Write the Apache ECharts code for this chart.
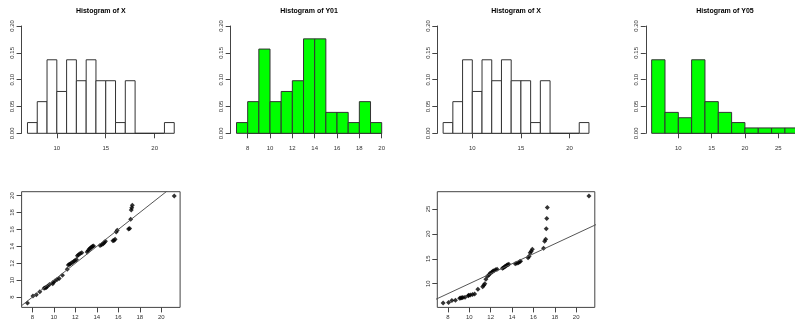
<!DOCTYPE html>
<html><head><meta charset="utf-8">
<script src="https://cdn.jsdelivr.net/npm/echarts@6/dist/echarts.min.js"></script>
<style>html,body{margin:0;padding:0;background:#fff}#c{width:795px;height:324px}</style>
</head><body><div id="c"></div>
<script>
// ---- data ----
const X_SORTED = [7.55, 8.06, 8.37, 8.7, 9.1, 9.2, 9.3, 9.4, 9.6, 9.9, 9.95, 10.1, 10.3, 10.5, 10.8,
  11.25, 11.35, 11.45, 11.55, 11.7, 11.85, 11.95, 12.1, 12.2, 12.3, 12.45, 12.6, 13.1, 13.2, 13.3,
  13.4, 13.5, 13.6, 13.7, 14.3, 14.45, 14.6, 14.7, 14.8, 15.5, 15.6, 15.7, 15.8, 15.9, 16.95,
  17.05, 17.15, 17.2, 17.25, 17.3, 21.2];
const Y01_SORTED = [7.3, 8.15, 8.3, 8.65, 9.05, 9.1, 9.15, 9.3, 9.5, 9.6, 9.75, 9.9, 10.1, 10.2, 10.6,
  11.3, 11.8, 11.9, 11.95, 12.1, 12.2, 12.3, 12.45, 12.9, 13.0, 13.15, 13.25, 13.35, 13.5, 13.7,
  13.8, 13.9, 14.0, 14.05, 14.1, 14.2, 14.3, 14.45, 14.6, 14.65, 14.7, 14.85, 15.7, 15.9, 16.05,
  16.1, 17.2, 18.3, 18.55, 18.85, 19.95];
const Y05_SORTED = [6.1, 6.2, 6.6, 6.7, 7.1, 7.15, 7.2, 7.25, 7.3, 7.6, 7.7, 7.75, 7.85, 7.95, 8.9,
  9.4, 9.7, 10.0, 10.9, 11.5, 11.8, 12.1, 12.3, 12.5, 12.6, 12.8, 12.9, 13.1, 13.2, 13.4,
  13.5, 13.7, 13.8, 13.9, 14.0, 14.1, 14.2, 14.4, 14.5, 15.2, 15.5, 16.2, 16.5, 16.9, 17.1,
  18.5, 18.9, 21.0, 23.1, 25.3, 27.6];

const HX_BREAKS = [7, 8, 9, 10, 11, 12, 13, 14, 15, 16, 17, 18, 19, 20, 21, 22];
const HX_DENS = [0.020, 0.059, 0.137, 0.078, 0.137, 0.098, 0.137, 0.098, 0.098, 0.020, 0.098, 0, 0, 0, 0.020];
const HY01_BREAKS = [7, 8, 9, 10, 11, 12, 13, 14, 15, 16, 17, 18, 19, 20];
const HY01_DENS = [0.020, 0.059, 0.157, 0.059, 0.078, 0.098, 0.176, 0.176, 0.039, 0.039, 0.020, 0.059, 0.020];
const HY05_BREAKS = [6, 8, 10, 12, 14, 16, 18, 20, 22, 24, 26, 28];
const HY05_DENS = [0.137, 0.039, 0.029, 0.137, 0.059, 0.039, 0.020, 0.010, 0.010, 0.010, 0.010];

const TITLES = ['Histogram of X', 'Histogram of Y01', 'Histogram of X', 'Histogram of Y05'];
const HIST_Y_TICKS = {min: 0, max: 0.2, step: 0.05};
const ABLINE = {a: 0, b: 1};

// ---- layout / style ----
const W = 795, H = 324;
const FONT = 'Liberation Sans';
const AX = '#444', LAB = '#333';
const chart = echarts.init(document.getElementById('c'), null, {renderer: 'canvas'});
const grid = [], xAxis = [], yAxis = [], series = [], graphic = [];

function ext(lo, hi) { const d = (hi - lo) * 0.04; return [lo - d, hi + d]; }
function px(reg, xr, v) { return reg.l + (v - xr[0]) / (xr[1] - xr[0]) * (reg.r - reg.l); }
function py(reg, yr, v) { return reg.b - (v - yr[0]) / (yr[1] - yr[0]) * (reg.b - reg.t); }

function hiddenAxis(min, max, gi) {
  return {type: 'value', gridIndex: gi, min, max, show: false, splitLine: {show: false}};
}
function tickAxis(dim, min, max, step, gi, offset, showLine, margin, fmt) {
  const a = {
    type: 'value', gridIndex: gi, min, max, interval: step, offset,
    position: dim === 'x' ? 'bottom' : 'left',
    axisLine: {show: showLine, lineStyle: {color: AX, width: 1}},
    axisTick: {show: true, length: 5, lineStyle: {color: AX, width: 1}},
    axisLabel: {show: true, fontFamily: FONT, fontSize: 6, color: LAB, margin,
      formatter: fmt || (v => String(v))},
    splitLine: {show: false}
  };
  if (dim === 'y') a.axisLabel.rotate = 90;
  return a;
}

// adds a region grid (data) and a tick grid (axes between given tick values)
function addPanel(reg, xr, yr, xt, yt, box, yfmt, xLabMargin) {
  const gi = grid.length;
  grid.push({left: reg.l, top: reg.t, width: reg.r - reg.l, height: reg.b - reg.t,
    outerBoundsMode: 'none', containLabel: false,
    show: box, borderColor: AX, borderWidth: 1, backgroundColor: 'transparent'});
  xAxis.push(hiddenAxis(xr[0], xr[1], gi));
  yAxis.push(hiddenAxis(yr[0], yr[1], gi));
  const gt = grid.length;
  const tl = px(reg, xr, xt.min), tr = px(reg, xr, xt.max);
  const tt = py(reg, yr, yt.max), tb = py(reg, yr, yt.min);
  grid.push({left: tl, top: tt, width: tr - tl, height: tb - tt, show: false,
    outerBoundsMode: 'none', containLabel: false});
  xAxis.push(tickAxis('x', xt.min, xt.max, xt.step, gt, reg.b - tb, !box, xLabMargin));
  yAxis.push(tickAxis('y', yt.min, yt.max, yt.step, gt, tl - reg.l, !box, 6, yfmt));
  return gi;
}

function addHist(title, reg, breaks, dens, fill, xt) {
  const xr = ext(breaks[0], breaks[breaks.length - 1]);
  const yr = ext(HIST_Y_TICKS.min, HIST_Y_TICKS.max);
  const gi = addPanel(reg, xr, yr, xt, HIST_Y_TICKS, false, v => v.toFixed(2), 8);
  const data = dens.map((d, i) => [breaks[i], breaks[i + 1], d]);
  series.push({
    type: 'custom', xAxisIndex: gi, yAxisIndex: gi, clip: false, silent: true,
    encode: {x: [0, 1], y: 2}, data,
    renderItem: (params, api) => {
      const p0 = api.coord([api.value(0), 0]);
      const p1 = api.coord([api.value(1), api.value(2)]);
      return {type: 'rect',
        shape: {x: p0[0], y: p1[1], width: p1[0] - p0[0], height: p0[1] - p1[1]},
        style: {fill, stroke: '#333', lineWidth: 1}};
    }
  });
  graphic.push({type: 'text', x: (reg.l + reg.r) / 2, y: 11,
    style: {text: title, font: 'bold 7px ' + FONT, fill: '#000', align: 'center', verticalAlign: 'middle'}});
}

function addQQ(reg, xs, ys, xt, yt) {
  const xr = ext(Math.min(...xs), Math.max(...xs));
  const yr = ext(Math.min(...ys), Math.max(...ys));
  const gi = addPanel(reg, xr, yr, xt, yt, true, null, 7);
  series.push({type: 'scatter', xAxisIndex: gi, yAxisIndex: gi, symbol: 'diamond', symbolSize: 5,
    itemStyle: {color: '#000'}, silent: true, data: xs.map((x, i) => [x, ys[i]])});
  const lo = Math.min(xr[0], yr[0]) - 5, hi = Math.max(xr[1], yr[1]) + 5;
  series.push({type: 'line', xAxisIndex: gi, yAxisIndex: gi, showSymbol: false, clip: true, silent: true,
    lineStyle: {color: '#555', width: 1},
    data: [[lo, ABLINE.a + ABLINE.b * lo], [hi, ABLINE.a + ABLINE.b * hi]]});
}

const TOP = 21.7, BOT = 137.6;
addHist(TITLES[0], {l: 21.6, t: TOP, r: 180.1, b: BOT}, HX_BREAKS, HX_DENS, '#ffffff', {min: 10, max: 20, step: 5});
addHist(TITLES[1], {l: 230.7, t: TOP, r: 387.5, b: BOT}, HY01_BREAKS, HY01_DENS, '#00ff00', {min: 8, max: 20, step: 2});
addHist(TITLES[2], {l: 437.3, t: TOP, r: 594.8, b: BOT}, HX_BREAKS, HX_DENS, '#ffffff', {min: 10, max: 20, step: 5});
addHist(TITLES[3], {l: 645.8, t: TOP, r: 804.1, b: BOT}, HY05_BREAKS, HY05_DENS, '#00ff00', {min: 10, max: 25, step: 5});

addQQ({l: 21.6, t: 191.7, r: 180.1, b: 307.4}, X_SORTED, Y01_SORTED, {min: 8, max: 20, step: 2}, {min: 8, max: 20, step: 2});
addQQ({l: 437.3, t: 191.7, r: 594.8, b: 307.4}, X_SORTED, Y05_SORTED, {min: 8, max: 20, step: 2}, {min: 10, max: 25, step: 5});

chart.setOption({animation: false, backgroundColor: '#fff', grid, xAxis, yAxis, series, graphic});
</script></body></html>
